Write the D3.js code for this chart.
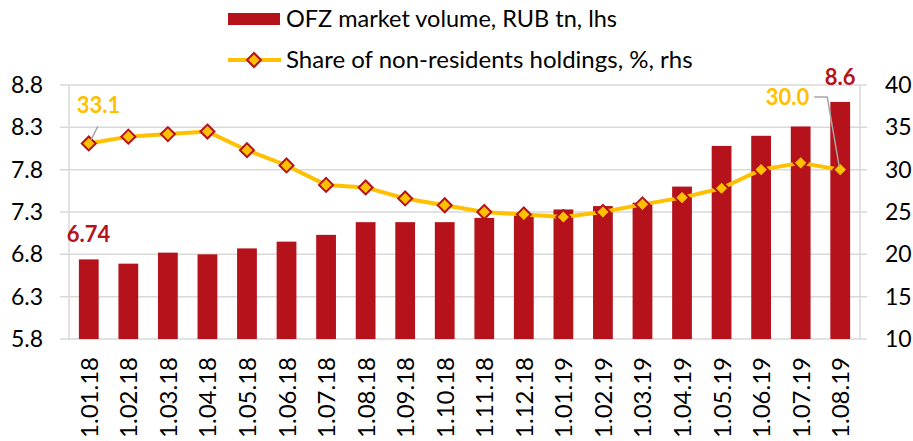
<!DOCTYPE html>
<html>
<head>
<meta charset="utf-8">
<script src="https://cdn.jsdelivr.net/npm/d3@7"></script>
<style>
  html, body { margin: 0; padding: 0; background: #fff; }
  svg { display: block; font-family: Lato, "Open Sans", sans-serif; }
</style>
</head>
<body>
<svg id="chart" width="913" height="441"></svg>
<script>
// Monthly observation dates
const dates = ["1.01.18","1.02.18","1.03.18","1.04.18","1.05.18","1.06.18","1.07.18","1.08.18","1.09.18","1.10.18",
               "1.11.18","1.12.18","1.01.19","1.02.19","1.03.19","1.04.19","1.05.19","1.06.19","1.07.19","1.08.19"];
// OFZ market volume, RUB tn (left axis)
const volume = [6.74, 6.69, 6.82, 6.80, 6.87, 6.95, 7.03, 7.18, 7.18, 7.18,
                7.23, 7.27, 7.33, 7.37, 7.41, 7.60, 8.08, 8.20, 8.31, 8.60];
// Share of non-residents holdings, % (right axis)
const share = [33.1, 33.9, 34.2, 34.5, 32.3, 30.5, 28.2, 27.9, 26.6, 25.8,
               25.0, 24.7, 24.4, 25.0, 25.9, 26.7, 27.8, 30.0, 30.8, 30.0];
const leftTicks = [5.8, 6.3, 6.8, 7.3, 7.8, 8.3, 8.8];
const rightTicks = [10, 15, 20, 25, 30, 35, 40];
const legendLabels = ["OFZ market volume, RUB tn, lhs", "Share of non-residents holdings, %, rhs"];

const RED = "#b5121b", GOLD = "#ffc000", GRID = "#d9d9d9", LEADER = "#a6a6a6";
const svg = d3.select("#chart");
const plot = { left: 69, right: 860, top: 85, bottom: 339 };

const x = d3.scaleBand().domain(dates).range([plot.left, plot.right]).paddingInner(0.5).paddingOuter(0.25);
const yL = d3.scaleLinear().domain([5.8, 8.8]).range([plot.bottom, plot.top]);
const yR = d3.scaleLinear().domain([10, 40]).range([plot.bottom, plot.top]);

// Horizontal gridlines with outside tick stubs on both sides
svg.append("g").selectAll("line").data(leftTicks).join("line")
  .attr("x1", plot.left - 9).attr("x2", plot.right + 7)
  .attr("y1", d => yL(d)).attr("y2", d => yL(d))
  .attr("stroke", GRID).attr("stroke-width", 1.5);

// Vertical axis lines
[plot.left, plot.right].forEach(px => {
  svg.append("line").attr("x1", px).attr("x2", px).attr("y1", plot.top).attr("y2", plot.bottom + 1)
    .attr("stroke", GRID).attr("stroke-width", 1.5);
});

// Left axis labels
const axL = d3.axisLeft(yL).tickValues(leftTicks).tickFormat(d3.format(".1f")).tickSize(0).tickPadding(26);
const gL = svg.append("g").attr("transform", `translate(${plot.left},0)`).call(axL);
gL.select(".domain").remove();
gL.selectAll("text").attr("font-size", 23).attr("fill", "#000").attr("font-family", "Lato, sans-serif");

// Right axis labels
const axR = d3.axisRight(yR).tickValues(rightTicks).tickFormat(d3.format("d")).tickSize(0).tickPadding(25);
const gR = svg.append("g").attr("transform", `translate(${plot.right},0)`).call(axR);
gR.select(".domain").remove();
gR.selectAll("text").attr("font-size", 23).attr("fill", "#000").attr("font-family", "Lato, sans-serif");

// Bars
svg.append("g").selectAll("rect").data(dates).join("rect")
  .attr("x", d => x(d)).attr("width", x.bandwidth())
  .attr("y", (d, i) => yL(volume[i])).attr("height", (d, i) => yL(5.8) - yL(volume[i]))
  .attr("fill", RED);

// Category labels, rotated
const axB = d3.axisBottom(x).tickSize(0).tickPadding(0);
const gB = svg.append("g").attr("transform", `translate(0,${plot.bottom})`).call(axB);
gB.select(".domain").remove();
gB.selectAll("text")
  .attr("font-size", 24).attr("fill", "#000").attr("font-family", "Lato, sans-serif")
  .attr("text-anchor", "end").attr("dy", null).attr("y", 0)
  .attr("transform", "translate(9,18) rotate(-90)");

// Share line with diamond markers
const cx = d => x(d) + x.bandwidth() / 2;
const line = d3.line().x((d, i) => cx(dates[i])).y(d => yR(d));
svg.append("path").datum(share).attr("d", line)
  .attr("fill", "none").attr("stroke", GOLD).attr("stroke-width", 4).attr("stroke-linejoin", "round");
const diamond = d3.symbol().type(d3.symbolDiamond2).size(125);
svg.append("g").selectAll("path").data(share).join("path")
  .attr("d", diamond)
  .attr("transform", (d, i) => `translate(${cx(dates[i])},${yR(d)})`)
  .attr("fill", GOLD).attr("stroke", RED).attr("stroke-width", 2);

// Data labels
const first = 0, last = dates.length - 1;
// leader lines
svg.append("line")
  .attr("x1", cx(dates[first]) + 9).attr("y1", yR(share[first]) - 17)
  .attr("x2", cx(dates[first]) + 2).attr("y2", yR(share[first]) - 3)
  .attr("stroke", LEADER).attr("stroke-width", 1.5);
svg.append("polyline")
  .attr("points", [[cx(dates[last]) - 26, 97], [cx(dates[last]) - 13, 97], [cx(dates[last]) - 1, yR(share[last]) - 3]].map(p => p.join(",")).join(" "))
  .attr("fill", "none").attr("stroke", LEADER).attr("stroke-width", 1.5);

svg.append("text").text(d3.format(".1f")(share[first]))
  .attr("x", cx(dates[first]) - 12).attr("y", yR(share[first]) - 30)
  .attr("font-size", 22).attr("font-weight", "bold").attr("fill", GOLD);
svg.append("text").text(d3.format(".2f")(volume[first]))
  .attr("x", cx(dates[first]) - 22).attr("y", yL(volume[first]) - 17)
  .attr("font-size", 22).attr("font-weight", "bold").attr("fill", RED);
svg.append("text").text(d3.format(".1f")(share[last]))
  .attr("x", cx(dates[last]) - 31).attr("y", 105).attr("text-anchor", "end")
  .attr("font-size", 22).attr("font-weight", "bold").attr("fill", GOLD);
svg.append("text").text(d3.format(".1f")(volume[last]))
  .attr("x", cx(dates[last])).attr("y", yL(volume[last]) - 17).attr("text-anchor", "middle")
  .attr("font-size", 22).attr("font-weight", "bold").attr("fill", RED);

// Legend
const lg = svg.append("g");
lg.append("rect").attr("x", 228).attr("y", 13).attr("width", 52).attr("height", 12).attr("fill", RED);
lg.append("text").text(legendLabels[0]).attr("x", 286).attr("y", 27).attr("font-size", 23.5).attr("fill", "#000");
lg.append("line").attr("x1", 228).attr("x2", 281).attr("y1", 60).attr("y2", 60).attr("stroke", GOLD).attr("stroke-width", 4);
lg.append("path").attr("d", diamond).attr("transform", "translate(254,60)")
  .attr("fill", GOLD).attr("stroke", RED).attr("stroke-width", 2);
lg.append("text").text(legendLabels[1]).attr("x", 286).attr("y", 68).attr("font-size", 24).attr("fill", "#000");
</script>
</body>
</html>
